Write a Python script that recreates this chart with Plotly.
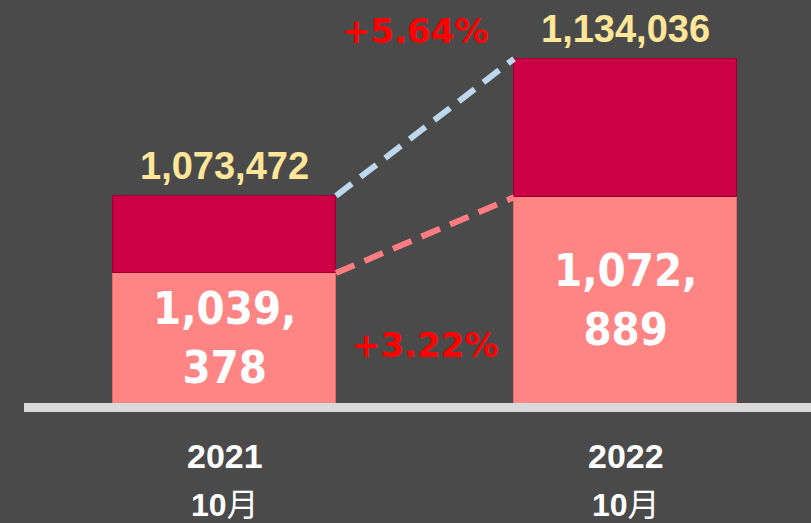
import plotly.graph_objects as go

# ---- data ----
years = ["2021", "2022"]
months = ["10月", "10月"]
base_values = [1039378, 1072889]      # bottom (pink) segment
total_values = [1073472, 1134036]     # total (top of crimson segment)
growth_total = "+5.64%"
growth_base = "+3.22%"
base_text = ["1,039,<br>378", "1,072,<br>889"]
total_text = ["1,073,472", "1,134,036"]

# ---- style ----
BG = "#4a4a4a"
PINK = "#ff8585"
CRIMSON = "#cc0044"
Y_FLOOR = 982000
Y_TOP = 1160000
BAR_W = 0.556
xs = list(range(len(years)))
top_seg = [t - b for t, b in zip(total_values, base_values)]

fig = go.Figure()
fig.add_trace(go.Bar(
    x=xs, y=base_values, width=BAR_W,
    marker=dict(color=PINK, line=dict(color="#e06a6a", width=1)),
    hoverinfo="skip", showlegend=False))
fig.add_trace(go.Bar(
    x=xs, y=top_seg, width=BAR_W,
    marker=dict(color=CRIMSON, line=dict(color="#9a0030", width=1)),
    hoverinfo="skip", showlegend=False))

# connector dashed lines
x_conn = [xs[0] + BAR_W / 2, xs[1] - BAR_W / 2]
fig.add_trace(go.Scatter(
    x=x_conn, y=total_values, mode="lines",
    line=dict(color="#bdd7ee", width=6, dash="20px,11px"),
    hoverinfo="skip", showlegend=False, cliponaxis=False))
fig.add_trace(go.Scatter(
    x=x_conn, y=base_values, mode="lines",
    line=dict(color="#ff7c80", width=6, dash="20px,11px"),
    hoverinfo="skip", showlegend=False, cliponaxis=False))

annotations = []
# values inside the pink segments
for i, v in enumerate(base_values):
    annotations.append(dict(
        x=xs[i], y=(Y_FLOOR + v) / 2, xref="x", yref="y",
        text=base_text[i], showarrow=False,
        font=dict(family="DejaVu Sans Condensed, Liberation Sans Narrow, sans-serif",
                  size=45, color="white", weight="bold"),
        xanchor="center", yanchor="middle"))
# totals above bars
for i, v in enumerate(total_values):
    annotations.append(dict(
        x=xs[i], y=v, xref="x", yref="y", yshift=7,
        text=total_text[i], showarrow=False,
        font=dict(family="Liberation Sans, Arial, sans-serif", size=38,
                  color="#ffe699", weight="bold"),
        xanchor="center", yanchor="bottom"))
# growth percentages
annotations.append(dict(
    x=0.474, y=1.0 - 31 / 403, xref="x", yref="paper",
    text=growth_total, showarrow=False,
    font=dict(family="DejaVu Sans, Liberation Sans, sans-serif", size=34,
              color="#ff0000", weight="bold"),
    xanchor="center", yanchor="middle"))
annotations.append(dict(
    x=0.5, y=(403 - 345) / 403, xref="x", yref="paper",
    text=growth_base, showarrow=False,
    font=dict(family="DejaVu Sans, Liberation Sans, sans-serif", size=34,
              color="#ff0000", weight="bold"),
    xanchor="center", yanchor="middle"))
# category labels
for i in xs:
    annotations.append(dict(
        x=xs[i], y=(403 - 455.5) / 403, xref="x", yref="paper",
        text=years[i], showarrow=False,
        font=dict(family="Liberation Sans, Arial, sans-serif", size=34,
                  color="white", weight="bold"),
        xanchor="center", yanchor="middle"))
    annotations.append(dict(
        x=xs[i], y=(403 - 523) / 403, xref="x", yref="paper",
        text="<b>" + months[i][:2] + "</b>" + months[i][2:], showarrow=False,
        font=dict(family="Liberation Sans, Noto Sans CJK SC, sans-serif", size=32,
                  color="white"),
        borderpad=0, borderwidth=0,
        xanchor="center", yanchor="bottom"))

fig.update_layout(
    width=811, height=523,
    margin=dict(l=24, r=0, t=0, b=120),
    paper_bgcolor=BG, plot_bgcolor=BG,
    barmode="stack", bargap=0,
    xaxis=dict(range=[-0.5, 1.4626], showgrid=False, zeroline=False,
               showticklabels=False, ticks="",
               showline=True, linecolor="#d9d9d9", linewidth=9, fixedrange=True),
    yaxis=dict(range=[Y_FLOOR, Y_TOP], visible=False, fixedrange=True),
    annotations=annotations,
    showlegend=False,
)

fig.write_html(
    "out.html",
    config={"displayModeBar": False},
    post_script="document.body.style.margin='0';document.body.style.padding='0';"
                "document.body.style.overflow='hidden';document.body.style.background='#4a4a4a';",
)
